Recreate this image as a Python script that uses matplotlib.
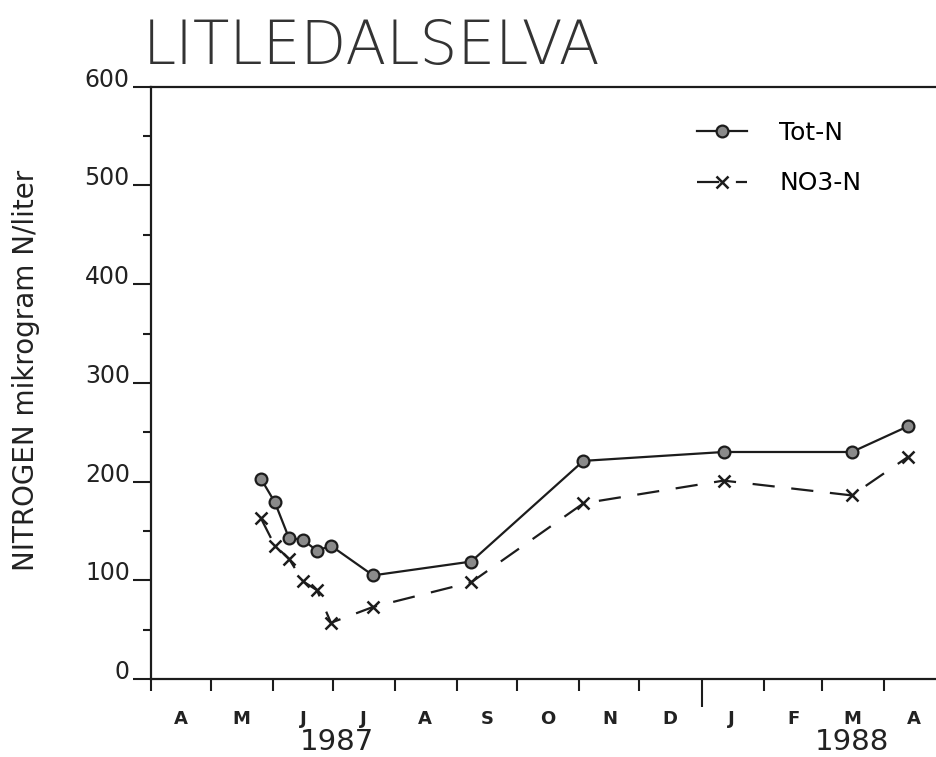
import matplotlib
matplotlib.use("Agg")
import matplotlib.pyplot as plt
import matplotlib.dates as mdates
from datetime import datetime

# sampling dates (1987-88) and concentrations, mikrogram N/liter
dates = ["1987-05-26", "1987-06-02", "1987-06-09", "1987-06-16", "1987-06-23",
         "1987-06-30", "1987-07-21", "1987-09-08", "1987-11-03", "1988-01-12",
         "1988-03-16", "1988-04-13"]
tot_n = [203, 179, 143, 141, 130, 135, 105, 119, 221, 230, 230, 256]
no3_n = [163, 135, 122, 99, 90, 57, 73, 98, 178, 201, 186, 225]

month_letters = ["A", "M", "J", "J", "A", "S", "O", "N", "D", "J", "F", "M", "A"]
month_starts = ["1987-04-01", "1987-05-01", "1987-06-01", "1987-07-01", "1987-08-01",
                "1987-09-01", "1987-10-01", "1987-11-01", "1987-12-01", "1988-01-01",
                "1988-02-01", "1988-03-01", "1988-04-01"]
month_mids = ["1987-04-16", "1987-05-16", "1987-06-16", "1987-07-16", "1987-08-16",
              "1987-09-16", "1987-10-16", "1987-11-16", "1987-12-16", "1988-01-16",
              "1988-02-16", "1988-03-16", "1988-04-16"]
year_labels = ["1987", "1988"]
year_pos = ["1987-07-03", "1988-03-16"]


def d(s):
    return mdates.date2num(datetime.strptime(s, "%Y-%m-%d"))


x = [d(s) for s in dates]
ink = "#1c1c1c"

fig = plt.figure(figsize=(9.37, 7.57), dpi=100)
ax = fig.add_axes([0.1608, 0.1030, 0.8392, 0.7824])

ax.plot(x, tot_n, "-", color=ink, lw=1.6, marker="o", ms=8.5,
        mfc="#8a8a8a", mec=ink, mew=1.6, label="Tot-N")
ax.plot(x, no3_n, color=ink, lw=1.6, dashes=(10, 7.5), marker="x", ms=9,
        mew=1.8, mec=ink, label="NO3-N")

ax.set_ylim(0, 600)
ax.set_xlim(d("1987-04-01"), d("1987-04-01") + 392.5)

for side in ["left", "top", "bottom"]:
    ax.spines[side].set_linewidth(1.6)
    ax.spines[side].set_color(ink)
ax.spines["right"].set_visible(False)

# y axis
ax.set_yticks(range(0, 601, 100))
ax.set_yticks(range(50, 600, 100), minor=True)
ax.tick_params(axis="y", which="major", direction="out", length=13, width=1.5,
               color=ink, pad=2, labelsize=17, labelcolor="#222")
ax.tick_params(axis="y", which="minor", direction="out", length=6, width=1.5, color=ink)
for lab in ax.get_yticklabels():
    lab.set_verticalalignment("baseline")

# x axis: ticks at month starts, letters at mid-month
ax.set_xticks([d(s) for s in month_starts])
ax.set_xticklabels([])
ax.set_xticks([d(s) for s in month_mids], minor=True)
ax.set_xticklabels(month_letters, minor=True, fontweight="bold")
ax.tick_params(axis="x", which="major", direction="out", length=8.5, width=1.5, color=ink)
ax.tick_params(axis="x", which="minor", length=0, pad=22, labelsize=13, labelcolor="#222")
# longer tick at the turn of the year
ax.xaxis.get_major_ticks()[9].tick1line.set_markersize(20)

for lab, pos in zip(year_labels, year_pos):
    ax.text(d(pos), -0.1064, lab, transform=ax.get_xaxis_transform(),
            ha="center", va="center", fontsize=21, color="#222")

fig.text(143 / 937, (757 - 64) / 757, "LITLEDALSELVA", fontsize=43,
         fontweight="light", color="#333", ha="left", va="baseline")
fig.text(26 / 937, (757 - 370) / 757, "NITROGEN mikrogram N/liter", rotation=90,
         fontsize=20, color="#222", ha="center", va="center")

ax.legend(loc="upper left", bbox_to_anchor=(697 / 937, (757 - 121) / 757),
          bbox_transform=fig.transFigure, frameon=False, fontsize=18,
          handlelength=2.0, handletextpad=1.3, labelspacing=1.05,
          borderpad=0, borderaxespad=0)

fig.savefig("out.png", dpi=100)
